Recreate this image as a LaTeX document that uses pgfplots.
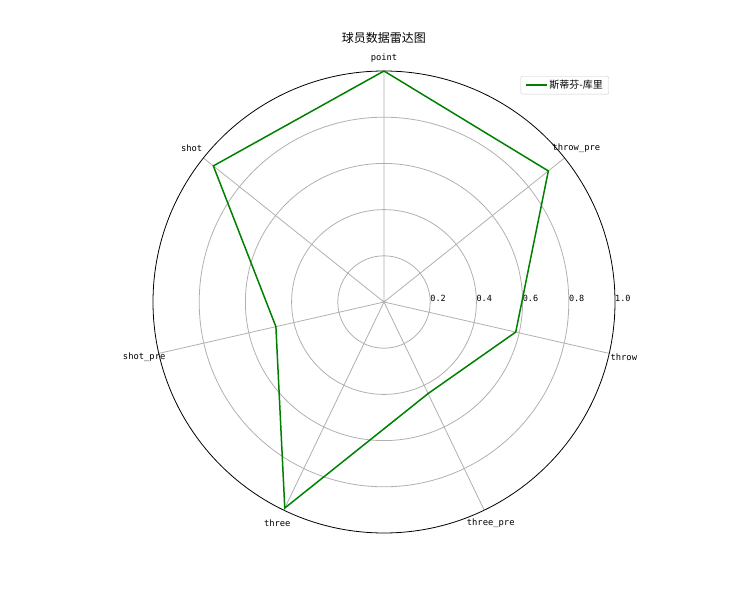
\documentclass[border=0pt]{standalone}
\usepackage{pgfplots}
\pgfplotsset{compat=1.18}
\usepgfplotslibrary{polar}
\usepackage{fontspec}
\setmainfont{DejaVu Sans Mono}
\newfontfamily\cjk{Noto Sans CJK SC}
\definecolor{mplgreen}{HTML}{008000}
\definecolor{gridgray}{HTML}{B0B0B0}
\begin{document}
\begin{tikzpicture}[x=1pt,y=1pt]
\path (0,0) rectangle (750,600);
\begin{polaraxis}[
 at={(384pt,298pt)}, anchor=center,
 scale only axis, width=462pt, height=462pt,
 xmin=0, xmax=360, ymin=0, ymax=1,
 xtick={90,38.5714,347.1429,295.7143,244.2857,192.8571,141.4286},
 xticklabels={},
 ytick={0.2,0.4,0.6,0.8},
 yticklabels={0.2,0.4,0.6,0.8},
 extra y ticks={1.0},
 extra y tick labels={1.0},
 extra y tick style={grid style={black, line width=0.8pt}},
 yticklabel style={anchor=west, inner sep=0pt, yshift=4pt, font=\fontsize{8.5}{10}\selectfont},
 major tick length=0pt,
 grid=major, grid style={color=gridgray, line width=0.8pt},
 axis line style={draw=none},
 clip=false,
 title={\cjk 球员数据雷达图},
 title style={at={(axis description cs:0.5,1)}, anchor=south, yshift=13pt, inner sep=0pt, font=\fontsize{12}{14}\selectfont},
 legend style={at={(axis description cs:0.987,0.989)}, anchor=north east, draw=gray!40, rounded corners=2pt, font=\fontsize{10}{12}\selectfont\cjk, inner xsep=4pt, inner ysep=2pt},
 legend cell align=left,
 legend image code/.code={\draw[#1] (0pt,0pt) -- (21pt,0pt);},
]
\addplot[mplgreen, line width=1.5pt] coordinates {
 (90,1.0) (38.5714,0.91) (347.1429,0.585) (295.7143,0.44) (244.2857,0.99) (192.8571,0.48) (141.4286,0.945) (90,1.0)
};
\addlegendentry{斯蒂芬-库里}
\begin{scope}[every node/.style={font=\fontsize{8.8}{10}\selectfont, anchor=center, inner sep=0pt}]
\node at (axis cs:90,1.057) {point};
\node at (axis cs:38.5714,1.065) {throw\_pre};
\node at (axis cs:347.1429,1.065) {throw};
\node at (axis cs:295.7143,1.065) {three\_pre};
\node at (axis cs:244.2857,1.065) {three};
\node at (axis cs:192.8571,1.065) {shot\_pre};
\node at (axis cs:141.4286,1.065) {shot};
\end{scope}
\end{polaraxis}
\end{tikzpicture}
\end{document}
